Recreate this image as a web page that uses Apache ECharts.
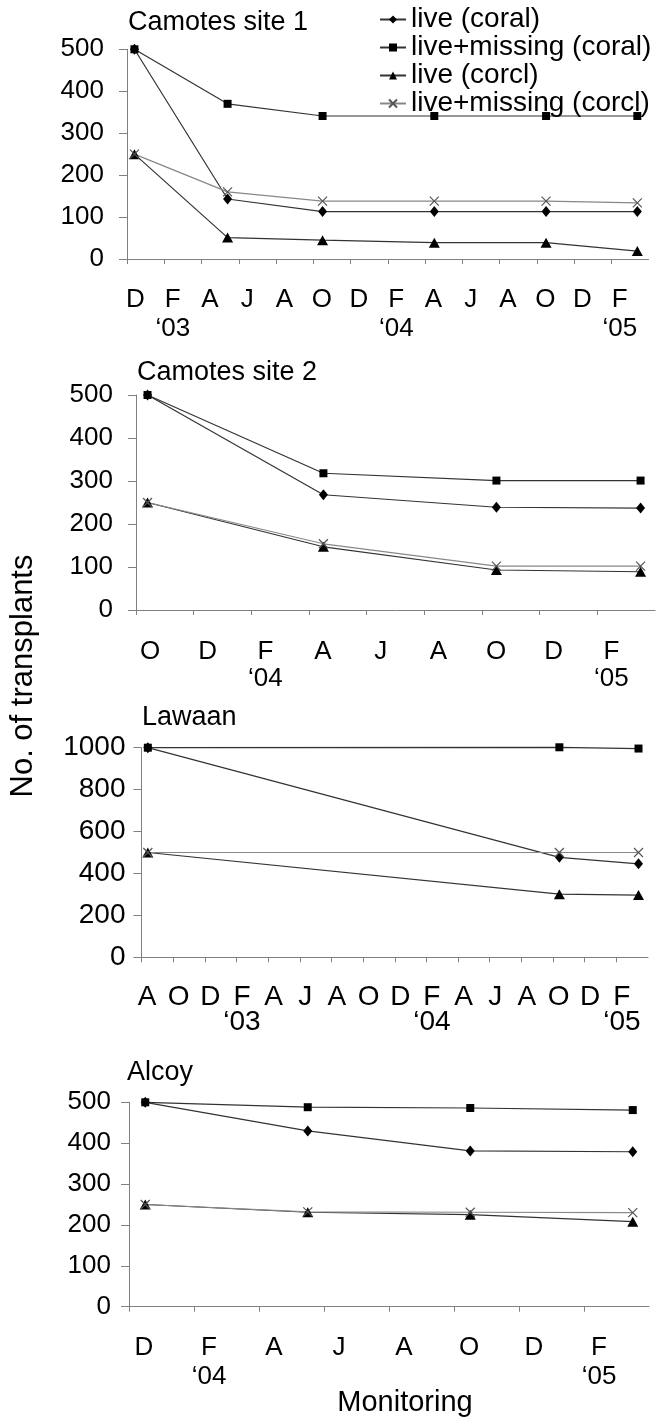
<!DOCTYPE html>
<html lang="en">
<head>
<meta charset="UTF-8">
<title>Coral transplants</title>
<script src="https://cdn.jsdelivr.net/npm/echarts@6/dist/echarts.min.js"></script>
<style>
  html, body { margin: 0; padding: 0; background: #fff; }
  #chart { width: 656px; height: 1422px; }
</style>
</head>
<body>
<div id="chart"></div>
<script>
var seriesNames = ['live (coral)', 'live+missing (coral)', 'live (corcl)', 'live+missing (corcl)'];

// Camotes site 1 (months counted from start of Dec '02)
var site1Months = [0.4, 5.4, 10.5, 16.5, 22.5, 27.4];
var site1LiveCoral = [500, 143, 113, 113, 113, 113];
var site1MissCoral = [500, 370, 341, 341, 341, 341];
var site1LiveCorcl = [250, 51, 45, 39, 39, 19];
var site1MissCorcl = [250, 160, 138, 138, 138, 134];
var site1Ticks = ['D', 'F', 'A', 'J', 'A', 'O', 'D', 'F', 'A', 'J', 'A', 'O', 'D', 'F'];
var site1Years = ['', '\u201803', '', '', '', '', '', '\u201804', '', '', '', '', '', '\u201805'];

// Camotes site 2 (from Oct '03)
var site2Months = [0.4, 6.5, 12.5, 17.5];
var site2LiveCoral = [500, 268, 239, 237];
var site2MissCoral = [500, 318, 301, 301];
var site2LiveCorcl = [250, 147, 93, 89];
var site2MissCorcl = [250, 154, 102, 102];
var site2Ticks = ['O', 'D', 'F', 'A', 'J', 'A', 'O', 'D', 'F'];
var site2Years = ['', '', '\u201804', '', '', '', '', '', '\u201805'];

// Lawaan (from Aug '02)
var lawaanMonths = [0.4, 26.4, 31.4];
var lawaanLiveCoral = [1000, 477, 446];
var lawaanMissCoral = [1000, 1002, 996];
var lawaanLiveCorcl = [500, 301, 297];
var lawaanMissCorcl = [500, 500, 500];
var lawaanTicks = ['A', 'O', 'D', 'F', 'A', 'J', 'A', 'O', 'D', 'F', 'A', 'J', 'A', 'O', 'D', 'F'];
var lawaanYears = ['', '', '', '\u201803', '', '', '', '', '', '\u201804', '', '', '', '', '', '\u201805'];

// Alcoy (from Dec '03)
var alcoyMonths = [0.5, 5.5, 10.5, 15.5];
var alcoyLiveCoral = [500, 430, 381, 379];
var alcoyMissCoral = [500, 488, 486, 481];
var alcoyLiveCorcl = [250, 231, 225, 208];
var alcoyMissCorcl = [250, 232, 231, 230];
var alcoyTicks = ['D', 'F', 'A', 'J', 'A', 'O', 'D', 'F'];
var alcoyYears = ['', '\u201804', '', '', '', '', '', '\u201805'];

var FONT = '"Liberation Sans", Arial, sans-serif';

var panels = [
  { title: 'Camotes site 1', months: site1Months, ticks: site1Ticks, years: site1Years,
    values: [site1LiveCoral, site1MissCoral, site1LiveCorcl, site1MissCorcl], yMax: 500, yStep: 100,
    grid: { left: 127, top: 49.3, right: 7.5, height: 209.7 }, titleAt: [128, 23],
    font: 26, shift: 8.5, xMargin: 26, lineH: 29, yMargin: 23 },
  { title: 'Camotes site 2', months: site2Months, ticks: site2Ticks, years: site2Years,
    values: [site2LiveCoral, site2MissCoral, site2LiveCorcl, site2MissCorcl], yMax: 500, yStep: 100,
    grid: { left: 136, top: 395, right: 1, height: 215 }, titleAt: [137, 373],
    font: 26, shift: 14, xMargin: 28.5, lineH: 27, yMargin: 23 },
  { title: 'Lawaan', months: lawaanMonths, ticks: lawaanTicks, years: lawaanYears,
    values: [lawaanLiveCoral, lawaanMissCoral, lawaanLiveCorcl, lawaanMissCorcl], yMax: 1000, yStep: 200,
    grid: { left: 141.5, top: 747.7, right: 8, height: 209.6 }, titleAt: [142, 717.5],
    font: 28, shift: 5.5, xMargin: 27, lineH: 25, yMargin: 16 },
  { title: 'Alcoy', months: alcoyMonths, ticks: alcoyTicks, years: alcoyYears,
    values: [alcoyLiveCoral, alcoyMissCoral, alcoyLiveCorcl, alcoyMissCorcl], yMax: 500, yStep: 100,
    grid: { left: 129, top: 1102.3, right: 7, height: 204.4 }, titleAt: [127, 1073],
    font: 26, shift: 15, xMargin: 27, lineH: 29, yMargin: 18 }
];

var marks = [
  { symbol: 'diamond', size: [9, 11], line: '#333', fill: '#000', stroke: '#000' },
  { symbol: 'rect', size: 8, line: '#333', fill: '#000', stroke: '#000' },
  { symbol: 'triangle', size: [11, 10], line: '#333', fill: '#000', stroke: '#000' },
  { symbol: 'path://M0,0L10,10M0,10L10,0', size: 9, line: '#888', fill: '#fff', stroke: '#555' }
];

var axisColor = '#808080';
var grids = [], xAxes = [], yAxes = [], series = [], graphics = [];

panels.forEach(function (p, pi) {
  grids.push(p.grid);
  var span = p.ticks.length * 2;
  var labelBase = {
    color: '#000', fontFamily: FONT, fontSize: p.font, lineHeight: p.lineH,
    align: 'center', padding: [0, 0, 0, p.shift * 2]
  };
  // month letters
  xAxes.push({
    type: 'value', gridIndex: pi, position: 'bottom', min: 0, max: span, interval: 2,
    axisLine: { show: true, lineStyle: { color: axisColor, width: 1 } },
    axisTick: { show: true, length: 5, lineStyle: { color: axisColor } },
    splitLine: { show: false },
    axisLabel: Object.assign({}, labelBase, {
      margin: p.xMargin, showMinLabel: true, showMaxLabel: false,
      formatter: function (v) { return p.ticks[Math.round(v / 2)] || ''; }
    })
  });
  // year line under the letters
  xAxes.push({
    type: 'value', gridIndex: pi, position: 'bottom', min: 0, max: span, interval: 2,
    axisLine: { show: false }, axisTick: { show: false }, splitLine: { show: false },
    axisLabel: Object.assign({}, labelBase, {
      margin: p.xMargin + p.lineH, showMinLabel: false, showMaxLabel: false,
      formatter: function (v) { return p.years[Math.round(v / 2)] || ''; }
    })
  });
  yAxes.push({
    type: 'value', gridIndex: pi, min: 0, max: p.yMax, interval: p.yStep,
    axisLine: { show: true, lineStyle: { color: axisColor, width: 1 } },
    axisTick: { show: true, length: 8, lineStyle: { color: axisColor } },
    splitLine: { show: false },
    axisLabel: {
      color: '#000', fontFamily: FONT, fontSize: p.font, margin: p.yMargin,
      showMinLabel: true, showMaxLabel: true,
      formatter: function (v) { return String(v); }
    }
  });
  p.values.forEach(function (vals, si) {
    var m = marks[si];
    series.push({
      type: 'line', name: seriesNames[si], xAxisIndex: pi * 2, yAxisIndex: pi,
      data: p.months.map(function (mo, i) { return [mo, vals[i]]; }),
      symbol: m.symbol, symbolSize: m.size, showSymbol: true, clip: false,
      lineStyle: { color: m.line, width: 1.2 },
      itemStyle: { color: m.fill, borderColor: m.stroke, borderWidth: si === 3 ? 1.2 : 0 },
      emphasis: { disabled: true }
    });
  });
  graphics.push({
    type: 'text', x: p.titleAt[0], y: p.titleAt[1],
    style: { text: p.title, font: '27px ' + FONT, fill: '#000', align: 'left', verticalAlign: 'middle' }
  });
});

graphics.push({
  type: 'text', x: 23, y: 676, rotation: Math.PI / 2,
  style: { text: 'No. of transplants', font: '31px ' + FONT, fill: '#000', align: 'center', verticalAlign: 'middle' }
});
graphics.push({
  type: 'text', x: 405, y: 1403,
  style: { text: 'Monitoring', font: '29px ' + FONT, fill: '#000', align: 'center', verticalAlign: 'middle' }
});

var chart = echarts.init(document.getElementById('chart'));
chart.setOption({
  animation: false,
  backgroundColor: '#fff',
  legend: {
    orient: 'vertical', left: 379, top: 5.5, padding: 0, itemGap: 0,
    itemWidth: 26, itemHeight: 10, selectedMode: false,
    data: seriesNames,
    textStyle: { color: '#000', fontFamily: FONT, fontSize: 28, lineHeight: 26 }
  },
  grid: grids,
  xAxis: xAxes,
  yAxis: yAxes,
  series: series,
  graphic: graphics
});
</script>
</body>
</html>
